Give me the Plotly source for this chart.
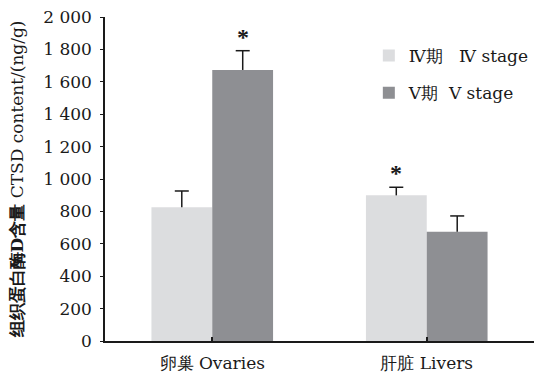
import plotly.graph_objects as go

# CTSD content in two tissues at stage IV and stage V
tissues = ["卵巢 Ovaries", "肝脏 Livers"]
stage_iv_mean = [825, 899]
stage_iv_sd = [101, 50]
stage_v_mean = [1673, 675]
stage_v_sd = [119, 97]
# significance marks drawn above the error bars
stage_iv_sig = ["", "*"]
stage_v_sig = ["*", ""]

y_ticks = [0, 200, 400, 600, 800, 1000, 1200, 1400, 1600, 1800, 2000]
y_tick_text = ["0", "200", "400", "600", "800", "1 000", "1 200", "1 400",
               "1 600", "1 800", "2 000"]

serif = "DejaVu Serif"
ink = "#1a1a1a"
nb = "\u00a0"

x_pos = list(range(len(tissues)))
offset = 0.142  # half the slot width of one bar in a group

fig = go.Figure()
fig.add_trace(go.Bar(
    x=x_pos, y=stage_iv_mean, name="Ⅳ期" + nb * 3 + "Ⅳ" + nb + "stage",
    marker=dict(color="#dcdddf", line=dict(width=0)),
    legendgroup="iv",
))
fig.add_trace(go.Bar(
    x=x_pos, y=stage_v_mean, name="Ⅴ期" + nb * 2 + "Ⅴ" + nb + "stage",
    marker=dict(color="#8e8f93", line=dict(width=0)),
    legendgroup="v",
))

# one-sided error bars: stem from the bar top to mean + SD, with a cap
for means, sds, shift in [(stage_iv_mean, stage_iv_sd, -offset),
                          (stage_v_mean, stage_v_sd, offset)]:
    sx, sy = [], []
    for i in x_pos:
        sx += [i + shift, i + shift, None]
        sy += [means[i], means[i] + sds[i], None]
    fig.add_trace(go.Scatter(x=sx, y=sy, mode="lines",
                             line=dict(color=ink, width=1.5),
                             showlegend=False, hoverinfo="skip"))
    fig.add_trace(go.Scatter(x=[i + shift for i in x_pos],
                             y=[means[i] + sds[i] for i in x_pos],
                             mode="markers",
                             marker=dict(symbol="line-ew-open", size=10, color=ink,
                                         line=dict(color=ink, width=1.5)),
                             showlegend=False, hoverinfo="skip"))

# asterisks above the significant bars
for i in x_pos:
    if stage_iv_sig[i]:
        fig.add_annotation(x=i - offset, y=stage_iv_mean[i] + stage_iv_sd[i],
                           text="<b>%s</b>" % stage_iv_sig[i], showarrow=False,
                           yshift=14, font=dict(family="Liberation Serif", size=24, color=ink))
    if stage_v_sig[i]:
        fig.add_annotation(x=i + offset, y=stage_v_mean[i] + stage_v_sd[i],
                           text="<b>%s</b>" % stage_v_sig[i], showarrow=False,
                           yshift=14, font=dict(family="Liberation Serif", size=24, color=ink))

fig.update_layout(
    width=553, height=375,
    margin=dict(l=105, r=19, t=17, b=34),
    paper_bgcolor="white", plot_bgcolor="white",
    barmode="group", bargap=0.433, bargroupgap=0,
    showlegend=True,
    legend=dict(x=0.615, y=0.935, xanchor="left", yanchor="top",
                font=dict(family=serif, size=17, color=ink),
                traceorder="grouped", tracegroupgap=12,
                bgcolor="rgba(0,0,0,0)", itemwidth=30),
    xaxis=dict(range=[-0.5, 1.5], tickvals=[0, 1, 1.5],
               ticktext=tissues + [""], automargin=False,
               ticks="inside", ticklen=4, tickwidth=1.5, tickcolor=ink,
               showline=True, linecolor=ink, linewidth=1.5,
               showgrid=False, zeroline=False, ticklabelstandoff=6,
               tickfont=dict(family=serif, size=17, color=ink)),
    yaxis=dict(range=[0, 2000], tickvals=y_ticks, ticktext=y_tick_text,
               automargin=False,
               ticks="outside", ticklen=3, tickwidth=1.2, tickcolor=ink,
               showline=True, linecolor=ink, linewidth=1.5,
               showgrid=False, zeroline=False, ticklabelstandoff=5,
               tickfont=dict(family=serif, size=17, color=ink),
               title=dict(text="<b>组织蛋白酶D含量</b> CTSD content/(ng/g)",
                          font=dict(family=serif, size=17, color=ink))),
)

fig.write_html("out.html")
